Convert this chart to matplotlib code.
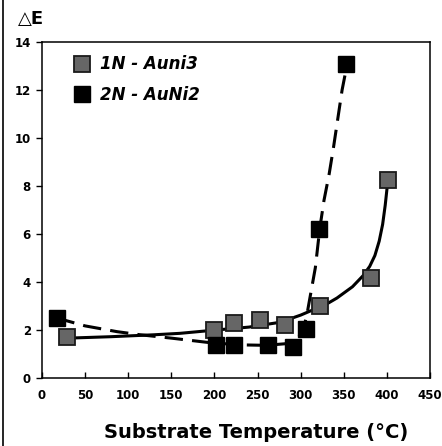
import matplotlib
matplotlib.use("Agg")
import matplotlib.pyplot as plt
from matplotlib.lines import Line2D

# --- data ---
x_1n = [29, 200, 223, 253, 282, 322, 381, 401]
y_1n = [1.7, 2.0, 2.27, 2.4, 2.2, 2.98, 4.17, 8.25]
x_2n = [17, 202, 223, 262, 291, 306, 321, 353]
y_2n = [2.5, 1.37, 1.37, 1.37, 1.3, 2.04, 6.2, 13.1]

# trend curves
curve_1n_x = [30, 80, 130, 160, 196, 240, 276, 300, 315, 331, 342, 360, 372, 380, 386, 391, 395, 398, 401]
curve_1n_y = [1.66, 1.72, 1.8, 1.86, 1.98, 2.12, 2.32, 2.62, 2.85, 3.1, 3.33, 3.8, 4.25, 4.65, 5.1, 5.7, 6.4, 7.2, 8.2]
curve_2n_x = [17, 50, 87, 114, 150, 195, 230, 260, 290, 302, 307, 312, 317, 322, 327, 333, 338, 343, 348, 354]
curve_2n_y = [2.5, 2.17, 1.93, 1.8, 1.66, 1.47, 1.38, 1.36, 1.45, 1.9, 2.6, 3.6, 4.6, 6.2, 7.4, 8.5, 9.6, 10.8, 12.0, 13.1]

labels = ["1N - Auni3", "2N - AuNi2"]
xticks = list(range(0, 451, 50))
yticks = list(range(0, 15, 2))

plt.rcParams['font.family'] = ['DejaVu Sans']

fig = plt.figure(figsize=(4.42, 4.46), dpi=100)
ax = fig.add_axes([0.095, 0.1525, 0.878, 0.7535])

ax.plot(curve_1n_x, curve_1n_y, color='black', lw=2.2, solid_capstyle='round',
        solid_joinstyle='round', zorder=2)
ax.plot(curve_2n_x, curve_2n_y, color='black', lw=2.2, dashes=(6, 3),
        dash_joinstyle='round', zorder=2)

gray_fc = '#666666'
ax.plot(x_1n, y_1n, ls='none', marker='s', ms=11.5, mfc=gray_fc, mec='#1a1a1a',
        mew=1.3, zorder=3)
ax.plot(x_2n, y_2n, ls='none', marker='s', ms=11.5, mfc='black', mec='black',
        mew=1.0, zorder=3)

ax.set_xlim(0, 450)
ax.set_ylim(0, 14)
ax.set_xticks(xticks)
ax.set_yticks(yticks)
ax.tick_params(axis='x', direction='in', length=4, width=1, pad=8, labelsize=8.5)
ax.tick_params(axis='y', direction='out', length=4, width=1, pad=4, labelsize=8.5)
for lab in ax.get_xticklabels() + ax.get_yticklabels():
    lab.set_fontweight('bold')
for s in ax.spines.values():
    s.set_linewidth(1.1)

handles = [
    Line2D([], [], ls='none', marker='s', ms=11.5, mfc=gray_fc, mec='#1a1a1a', mew=1.3),
    Line2D([], [], ls='none', marker='s', ms=11.5, mfc='black', mec='black'),
]
leg = ax.legend(handles, labels, loc='upper left', bbox_to_anchor=(0.082, 0.96),
                borderaxespad=0, borderpad=0, frameon=False, handlelength=1.0,
                handletextpad=0.6, labelspacing=0.75,
                prop={'size': 12, 'weight': 'bold', 'style': 'oblique'})

fig.text(256 / 442, 1 - 433 / 446, 'Substrate Temperature (°C)', ha='center',
         va='center', fontsize=14, fontweight='bold')
fig.text(31 / 442, 1 - 19 / 446, '△E', ha='center', va='center', fontsize=13,
         fontweight='bold')

# scan page border at left
fig.add_artist(Line2D([3 / 442, 3 / 442], [0, 1], transform=fig.transFigure,
                      color='black', lw=1.2))

fig.savefig('out.png', dpi=100)
